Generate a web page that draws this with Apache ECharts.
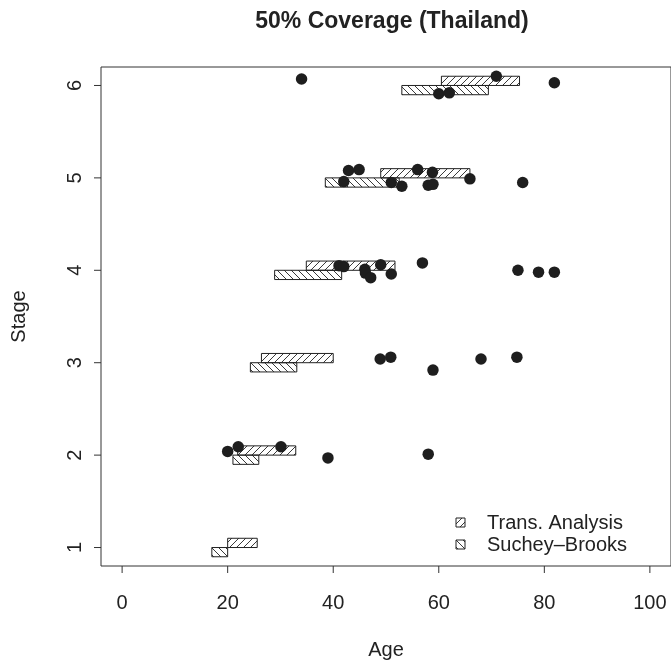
<!DOCTYPE html>
<html>
<head>
<meta charset="utf-8">
<script src="https://cdn.jsdelivr.net/npm/echarts@6/dist/echarts.min.js"></script>
<style>
  html, body { margin: 0; padding: 0; background: #fff; }
  #chart { width: 671px; height: 667px; }
</style>
</head>
<body>
<div id="chart"></div>
<script>
// Age ranges per stage for the two methods
const stages = [1, 2, 3, 4, 5, 6];
const transStart = [20.0, 21.9, 26.4, 34.9, 49.0, 60.5];
const transEnd = [25.6, 32.9, 40.0, 51.7, 65.9, 75.3];
const sucheyStart = [17.0, 21.0, 24.3, 28.9, 38.5, 53.0];
const sucheyEnd = [20.0, 25.9, 33.1, 41.6, 52.5, 69.4];

// Observed individuals (age, jittered stage)
const pointAges = [
  20.0, 22.0, 30.1, 39.0, 58.0,
  48.9, 50.9, 58.9, 68.0, 74.8,
  41.1, 42.0, 46.0, 46.1, 47.1, 49.0, 51.0, 56.9, 75.0, 78.9, 81.9,
  42.9, 44.9, 42.0, 51.0, 53.0, 56.0, 58.8, 58.0, 58.9, 65.9, 75.9,
  34.0, 70.9, 60.0, 62.0, 81.9
];
const pointStages = [
  2.04, 2.09, 2.09, 1.97, 2.01,
  3.04, 3.06, 2.92, 3.04, 3.06,
  4.05, 4.04, 4.01, 3.97, 3.92, 4.06, 3.96, 4.08, 4.00, 3.98, 3.98,
  5.08, 5.09, 4.96, 4.95, 4.91, 5.09, 5.06, 4.92, 4.93, 4.99, 4.95,
  6.07, 6.10, 5.91, 5.92, 6.03
];

const xTicks = [0, 20, 40, 60, 80, 100];
const yTicks = [1, 2, 3, 4, 5, 6];

// Axis ranges (4% padding around the data ranges)
const X_MIN = -4, X_MAX = 104;
const Y_MIN = 0.8, Y_MAX = 6.2;

const FONT = '"Liberation Sans", Arial, Helvetica, sans-serif';
const INK = '#222';
const AXIS_INK = '#333';
const TICK_LEN = 7;
const BAR_H = 0.1;
const HATCH_STEP = 7;

// Hatch segments clipped to a pixel rectangle; dir 1 = "/", -1 = "\"
function hatchLines(x0, y0, x1, y1, dir) {
  const segs = [];
  if (dir === 1) {
    const cMin = Math.floor((x0 + y0) / HATCH_STEP) * HATCH_STEP;
    for (let c = cMin; c <= x1 + y1; c += HATCH_STEP) {
      const xa = Math.max(x0, c - y1), xb = Math.min(x1, c - y0);
      if (xb > xa) segs.push([xa, c - xa, xb, c - xb]);
    }
  } else {
    const cMin = Math.floor((x0 - y1) / HATCH_STEP) * HATCH_STEP;
    for (let c = cMin; c <= x1 - y0; c += HATCH_STEP) {
      const xa = Math.max(x0, c + y0), xb = Math.min(x1, c + y1);
      if (xb > xa) segs.push([xa, xa - c, xb, xb - c]);
    }
  }
  return segs;
}

function hatchedBox(x0, y0, x1, y1, dir) {
  const children = hatchLines(x0, y0, x1, y1, dir).map(s => ({
    type: 'line',
    shape: { x1: s[0], y1: s[1], x2: s[2], y2: s[3] },
    style: { stroke: INK, lineWidth: 0.9 }
  }));
  children.push({
    type: 'rect',
    shape: { x: x0, y: y0, width: x1 - x0, height: y1 - y0 },
    style: { fill: 'none', stroke: INK, lineWidth: 1 }
  });
  return children;
}

function makeBarSeries(name, starts, ends, lowOff, dir) {
  return {
    name: name,
    type: 'custom',
    z: 2,
    data: stages.map((s, i) => [starts[i], ends[i], s + lowOff, s + lowOff + BAR_H]),
    renderItem: function (params, api) {
      const p0 = api.coord([api.value(0), api.value(3)]);
      const p1 = api.coord([api.value(1), api.value(2)]);
      return { type: 'group', children: hatchedBox(p0[0], p0[1], p1[0], p1[1], dir) };
    }
  };
}

// Outward tick marks on the bottom and left edges of the plot box
const tickSeries = [
  {
    type: 'custom', silent: true, clip: false, z: 1,
    data: xTicks.map(v => [v, Y_MIN]),
    renderItem: function (params, api) {
      const p = api.coord([api.value(0), api.value(1)]);
      return { type: 'line', shape: { x1: p[0], y1: p[1], x2: p[0], y2: p[1] + TICK_LEN },
        style: { stroke: AXIS_INK, lineWidth: 1 } };
    }
  },
  {
    type: 'custom', silent: true, clip: false, z: 1,
    data: yTicks.map(v => [X_MIN, v]),
    renderItem: function (params, api) {
      const p = api.coord([api.value(0), api.value(1)]);
      return { type: 'line', shape: { x1: p[0], y1: p[1], x2: p[0] - TICK_LEN, y2: p[1] },
        style: { stroke: AXIS_INK, lineWidth: 1 } };
    }
  }
];

const legendItems = [
  { label: 'Trans. Analysis', dir: 1, y: 518 },
  { label: 'Suchey–Brooks', dir: -1, y: 540 }
];
const legendGraphics = [];
legendItems.forEach(it => {
  legendGraphics.push({
    type: 'group',
    children: hatchedBox(456, it.y, 465, it.y + 9, it.dir)
  });
  legendGraphics.push({
    type: 'text',
    x: 487, y: it.y + 5,
    style: {
      text: it.label, font: '20px ' + FONT, fill: INK,
      textVerticalAlign: 'middle', verticalAlign: 'middle'
    }
  });
});

const chart = echarts.init(document.getElementById('chart'), null, { renderer: 'canvas' });
chart.setOption({
  animation: false,
  backgroundColor: '#fff',
  title: {
    text: '50% Coverage (Thailand)',
    left: 387, top: 5, textAlign: 'center',
    textStyle: { fontFamily: FONT, fontWeight: 'bold', fontSize: 23, color: INK }
  },
  grid: {
    left: 101, top: 67, right: -3, bottom: 101,
    show: true, borderColor: AXIS_INK, borderWidth: 1, backgroundColor: 'transparent'
  },
  xAxis: {
    type: 'value', min: X_MIN, max: X_MAX,
    name: 'Age', nameLocation: 'middle', nameGap: 74,
    nameTextStyle: { fontFamily: FONT, fontSize: 20, color: INK },
    axisLine: { show: false, onZero: false },
    splitLine: { show: false },
    axisTick: { show: false },
    axisLabel: { customValues: xTicks, margin: 27, fontFamily: FONT, fontSize: 20, color: INK }
  },
  yAxis: {
    type: 'value', min: Y_MIN, max: Y_MAX,
    name: 'Stage', nameLocation: 'middle', nameGap: 72,
    nameTextStyle: { fontFamily: FONT, fontSize: 20, color: INK },
    axisLine: { show: false, onZero: false },
    splitLine: { show: false },
    axisTick: { show: false },
    axisLabel: { customValues: yTicks, rotate: 90, margin: 16, fontFamily: FONT, fontSize: 20, color: INK }
  },
  graphic: legendGraphics,
  series: tickSeries.concat([
    makeBarSeries('Trans. Analysis', transStart, transEnd, 0, 1),
    makeBarSeries('Suchey–Brooks', sucheyStart, sucheyEnd, -BAR_H, -1),
    {
      name: 'Individuals',
      type: 'scatter',
      z: 3,
      symbol: 'circle',
      symbolSize: 11.5,
      itemStyle: { color: '#1e1e1e', opacity: 1 },
      data: pointAges.map((a, i) => [a, pointStages[i]])
    }
  ])
});
</script>
</body>
</html>
